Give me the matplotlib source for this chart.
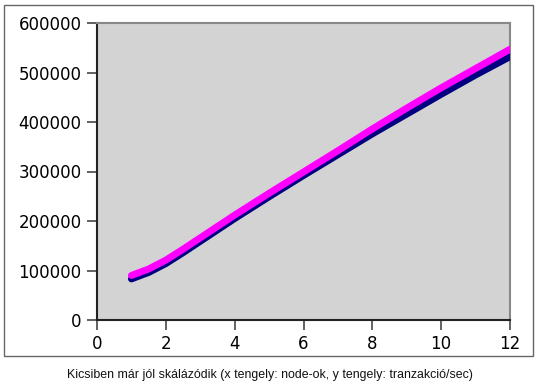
import matplotlib
matplotlib.use('Agg')
import matplotlib.pyplot as plt
from matplotlib.patches import Rectangle

# node-ok szama es tranzakcio/sec
nodes = [1, 1.5, 2, 2.5, 3, 4, 5, 6, 7, 8, 9, 10, 11, 12]
tps_navy = [83000, 96000, 114000, 136000, 159000, 205000, 249000, 292000, 334000, 376000, 416000, 456000, 495000, 532000]
tps_magenta = [90000, 103000, 121000, 143000, 166000, 212000, 256000, 299000, 342000, 386000, 428000, 469000, 508000, 547000]
xticks = [0, 2, 4, 6, 8, 10, 12]
yticks = [0, 100000, 200000, 300000, 400000, 500000, 600000]
caption = 'Kicsiben már jól skálázódik (x tengely: node-ok, y tengely: tranzakció/sec)'

fig = plt.figure(figsize=(5.47, 3.9), dpi=100)

# keret a kep korul
fig.patches.append(Rectangle((4 / 547, 1 - 356 / 390), 529 / 547, 351 / 390,
                             transform=fig.transFigure, fill=False,
                             edgecolor='#666666', linewidth=1.0))

ax = fig.add_axes([97 / 547, 1 - 320 / 390, 413 / 547, 297 / 390])
ax.set_facecolor('#d3d3d3')

ax.plot(nodes, tps_navy, color='#000080', linewidth=5, solid_capstyle='round',
        solid_joinstyle='round', zorder=3)
ax.plot(nodes, tps_magenta, color='#ff00ff', linewidth=5, solid_capstyle='round',
        solid_joinstyle='round', zorder=4)

ax.set_xlim(0, 12)
ax.set_ylim(0, 600000)
ax.set_xticks(xticks)
ax.set_yticks(yticks)
ax.tick_params(direction='out', length=7, width=1.3, color='#555555',
               labelsize=12, pad=4)
for side in ['left', 'bottom']:
    ax.spines[side].set_color('#222222')
    ax.spines[side].set_linewidth(1.5)
for side in ['top', 'right']:
    ax.spines[side].set_color('#888888')
    ax.spines[side].set_linewidth(1.5)

fig.text(270 / 547, 1 - 375 / 390, caption, ha='center', va='center',
         fontsize=8.9, family='Liberation Sans', color='#111111')

fig.savefig('out.png', dpi=100)
